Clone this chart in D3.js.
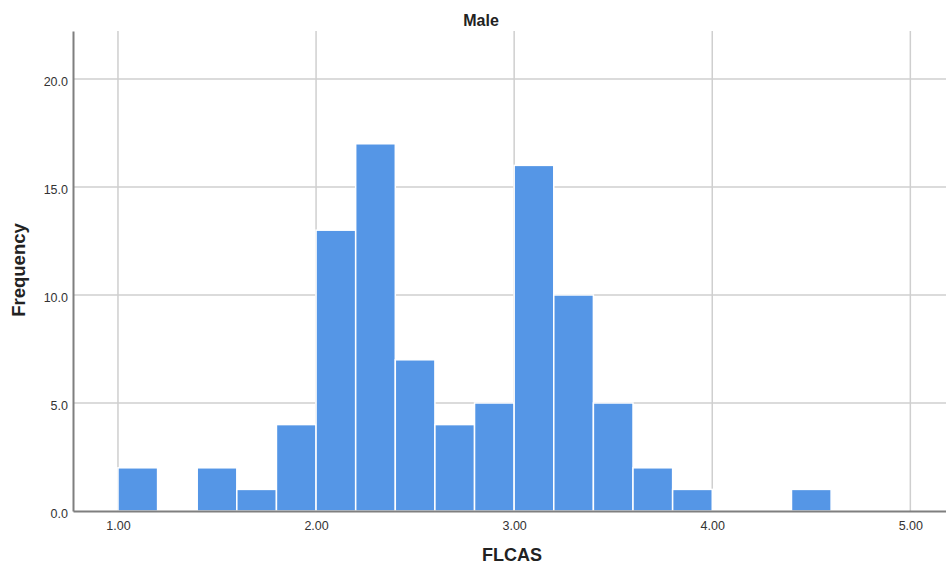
<!DOCTYPE html>
<html><head><meta charset="utf-8">
<script src="https://cdn.jsdelivr.net/npm/d3@7/dist/d3.min.js"></script>
<style>body{margin:0;background:#fff;} text{font-family:Arial,"Liberation Sans",sans-serif;}</style>
</head><body><svg id="c" width="946" height="567"></svg>
<script>
const binStarts = [1.0,1.2,1.4,1.6,1.8,2.0,2.2,2.4,2.6,2.8,3.0,3.2,3.4,3.6,3.8,4.0,4.2,4.4];
const counts    = [2,0,2,1,4,13,17,7,4,5,16,10,5,2,1,0,0,1];
const binWidth = 0.2;
const xTicks = [1,2,3,4,5];
const yTicks = [0,5,10,15,20];
const title = "Male", xLabel = "FLCAS", yLabel = "Frequency";

const svg = d3.select("#c");
const L = 73, R = 946, T = 31, B = 511;
const x = d3.scaleLinear().domain([0.773, 5.18]).range([L, R]);
const y = d3.scaleLinear().domain([0, 22.22]).range([B, T]);

// gridlines
svg.append("g").selectAll("line").data(yTicks.filter(d=>d>0)).join("line")
  .attr("x1", L).attr("x2", R).attr("y1", d=>y(d)).attr("y2", d=>y(d))
  .attr("stroke", "#cfcfcf").attr("stroke-width", 1.5);
svg.append("g").selectAll("line").data(xTicks).join("line")
  .attr("x1", d=>x(d)).attr("x2", d=>x(d)).attr("y1", T).attr("y2", B)
  .attr("stroke", "#cfcfcf").attr("stroke-width", 1.5);

// bars
svg.append("g").selectAll("rect").data(binStarts.map((s,i)=>({s, c:counts[i]})).filter(d=>d.c>0)).join("rect")
  .attr("x", d=>x(d.s)).attr("width", d=>x(d.s+binWidth)-x(d.s))
  .attr("y", d=>y(d.c)).attr("height", d=>y(0)-y(d.c))
  .attr("fill", "#5596e6").attr("stroke", "#ffffff").attr("stroke-width", 1.5);

// axes
const xAxis = d3.axisBottom(x).tickValues(xTicks).tickFormat(d3.format(".2f")).tickSize(0).tickPadding(10);
const gx = svg.append("g").attr("transform", `translate(0,${B})`).call(xAxis);
gx.select(".domain").attr("stroke", "#7f7f7f").attr("stroke-width", 2);
gx.selectAll("text").attr("font-size", 12.5).attr("fill", "#333");

const yAxis = d3.axisLeft(y).tickValues(yTicks).tickFormat(d3.format(".1f")).tickSize(0).tickPadding(5);
const gy = svg.append("g").attr("transform", `translate(${L},0)`).call(yAxis);
gy.select(".domain").attr("stroke", "#7f7f7f").attr("stroke-width", 2);
gy.selectAll("text").attr("font-size", 12.5).attr("fill", "#333").attr("dy", "0.55em");

svg.append("text").attr("x", 481).attr("y", 26).attr("text-anchor", "middle")
  .attr("font-size", 16).attr("font-weight", "bold").attr("fill", "#222").text(title);
svg.append("text").attr("x", 512).attr("y", 561).attr("text-anchor", "middle")
  .attr("font-size", 18).attr("font-weight", "bold").attr("fill", "#222").text(xLabel);
svg.append("text").attr("transform", `translate(25,270) rotate(-90)`).attr("text-anchor", "middle")
  .attr("font-size", 18.5).attr("font-weight", "bold").attr("fill", "#222").text(yLabel);
</script></body></html>
